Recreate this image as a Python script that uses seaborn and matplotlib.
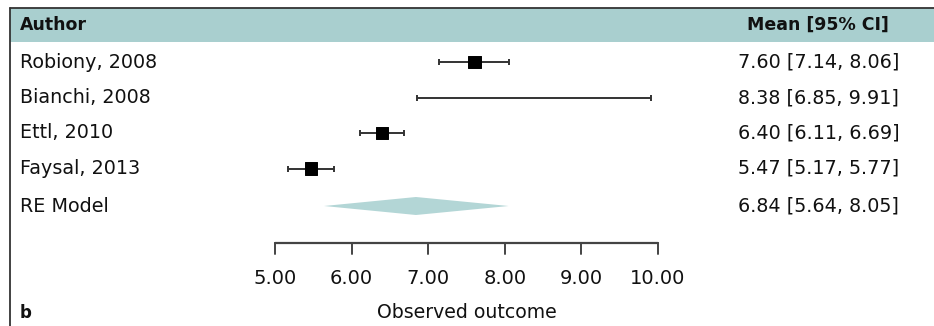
import matplotlib
matplotlib.use("Agg")
import matplotlib.pyplot as plt
import seaborn as sns
import pandas as pd
import numpy as np

sns.set_theme(style="white")
plt.rcParams['font.family'] = ['DejaVu Sans']

authors = ["Robiony, 2008", "Bianchi, 2008", "Ettl, 2010", "Faysal, 2013"]
means = [7.60, 8.38, 6.40, 5.47]
lower = [7.14, 6.85, 6.11, 5.17]
upper = [8.06, 9.91, 6.69, 5.77]
weights = [1.0, 0.0, 0.9, 0.85]
re_label = "RE Model"
re_mean, re_lower, re_upper = 6.84, 5.64, 8.05
ticks = [5, 6, 7, 8, 9, 10]
tick_labels = ["5.00", "6.00", "7.00", "8.00", "9.00", "10.00"]

W, H = 934, 326
fig = plt.figure(figsize=(W / 100, H / 100), dpi=100)
ax = fig.add_axes([0, 0, 1, 1])

# x mapping: 5 -> 275px, 10 -> 658px
ppu = (658 - 275) / 5.0
x0 = 5 - 275 / ppu
ax.set_xlim(x0, x0 + W / ppu)
ax.set_ylim(H, 0)  # y in pixel rows
ax.axis("off")

row_y = [62, 97.5, 133, 168.5]
re_y = 206

df = pd.DataFrame({"author": authors, "mean": means, "lower": lower,
                   "upper": upper, "y": row_y, "w": weights})

def fx(px):
    return x0 + px / ppu

FS = 13.8
TXT = "#111111"

# header band
ax.add_patch(plt.Rectangle((fx(10), 8), fx(W) - fx(10), 34, color="#a9cfcf", lw=0, zorder=0))
# frame lines
ax.plot([fx(9.5), fx(W)], [7.5, 7.5], color="#333333", lw=1.3, zorder=3)
ax.plot([fx(9.5), fx(9.5)], [7.5, H], color="#333333", lw=1.3, zorder=3)

# CI lines with caps
ax.hlines(df["y"], df["lower"], df["upper"], color="#333333", lw=1.4, zorder=2)
cap = 3
ax.vlines(df["lower"], df["y"] - cap, df["y"] + cap, color="#333333", lw=1.4, zorder=2)
ax.vlines(df["upper"], df["y"] - cap, df["y"] + cap, color="#333333", lw=1.4, zorder=2)

# squares
dfs = df[df["w"] > 0]
sns.scatterplot(data=dfs, x="mean", y="y", size="w", sizes=(75, 85), marker="s",
                color="black", edgecolor="black", legend=False, ax=ax, zorder=4)
ax.set_xlim(x0, x0 + W / ppu)
ax.set_ylim(H, 0)
ax.axis("off")

# diamond
ax.fill([re_lower, re_mean, re_upper, re_mean], [re_y, re_y - 9, re_y, re_y + 9],
        color="#b3d6d6", lw=0, zorder=2)

# axis
ax.plot([ticks[0], ticks[-1]], [243, 243], color="#444444", lw=1.6)
for t, lab in zip(ticks, tick_labels):
    ax.plot([t, t], [243, 254], color="#444444", lw=1.4)
    ax.text(t, 278, lab, ha="center", va="center", fontsize=14, color=TXT)
ax.text(7.5, 313, "Observed outcome", ha="center", va="center", fontsize=13.6, color=TXT)
ax.text(fx(20), 313, "b", ha="left", va="center", fontsize=12, fontweight="bold", color=TXT)

# header texts
ax.text(fx(20), 25, "Author", ha="left", va="center", fontsize=12.5, fontweight="bold", color=TXT)
ax.text(fx(889), 25, "Mean [95% CI]", ha="right", va="center", fontsize=12.5, fontweight="bold", color=TXT)

# rows
for a, m, l, u, y in zip(authors, means, lower, upper, row_y):
    ax.text(fx(20), y, a, ha="left", va="center", fontsize=FS, color=TXT)
    ax.text(fx(738), y, f"{m:.2f} [{l:.2f}, {u:.2f}]", ha="left", va="center", fontsize=FS, color=TXT)
ax.text(fx(20), re_y, re_label, ha="left", va="center", fontsize=FS, color=TXT)
ax.text(fx(738), re_y, f"{re_mean:.2f} [{re_lower:.2f}, {re_upper:.2f}]", ha="left", va="center",
        fontsize=FS, color=TXT)

fig.savefig("out.png", dpi=100)
